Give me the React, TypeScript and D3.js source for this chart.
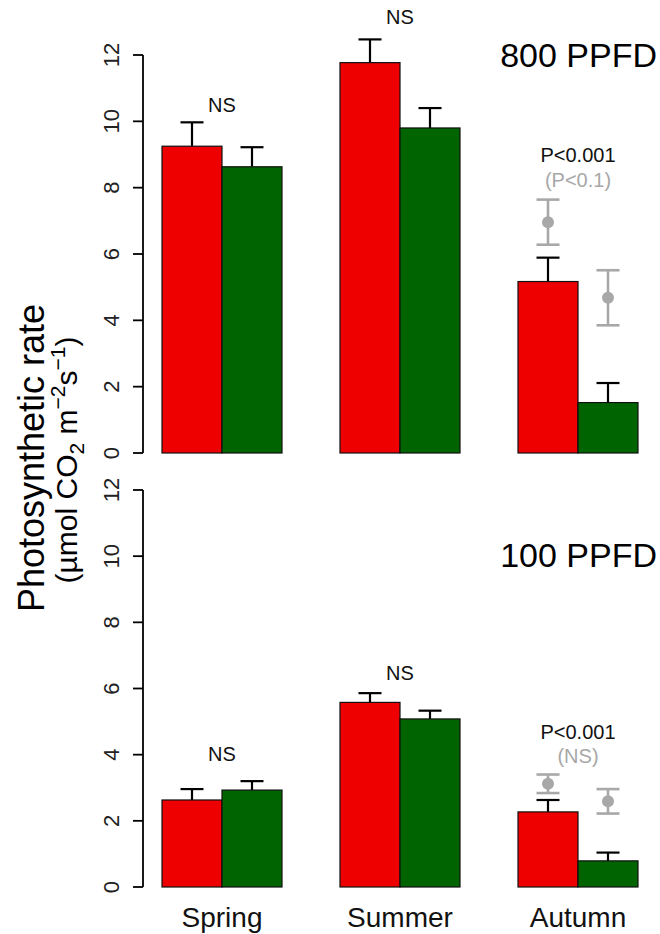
import * as d3 from "d3";

// seasons and treatments
const seasons = ["Spring", "Summer", "Autumn"];
const treatments = ["red", "green"];
const yTicks = [0, 2, 4, 6, 8, 10, 12];

// 800 PPFD panel
const redMean800 = [9.25, 11.77, 5.17];
const redSE800 = [0.72, 0.7, 0.72];
const greenMean800 = [8.63, 9.8, 1.52];
const greenSE800 = [0.59, 0.6, 0.59];
const greyMean800 = [6.96, 4.68]; // autumn, red then green
const greySE800 = [0.68, 0.83];
const sig800 = ["NS", "NS", "P<0.001"];
const greySig800 = "(P<0.1)";

// 100 PPFD panel
const redMean100 = [2.63, 5.58, 2.27];
const redSE100 = [0.33, 0.28, 0.36];
const greenMean100 = [2.93, 5.08, 0.79];
const greenSE100 = [0.27, 0.25, 0.25];
const greyMean100 = [3.12, 2.59];
const greySE100 = [0.28, 0.37];
const sig100 = ["NS", "NS", "P<0.001"];
const greySig100 = "(NS)";

const W = 660,
  H = 934;
const FONT = "'Liberation Sans', Arial, sans-serif";
const RED = "#ee0000";
const GREEN = "#006400";
const GREY = "#a8a8a8";

const x = d3
  .scaleBand()
  .domain(seasons)
  .range([133, 667])
  .paddingInner(58 / 178)
  .paddingOuter(29 / 178);
const xSub = d3.scaleBand().domain(treatments).range([0, x.bandwidth()]);

function Panel({ y, red, redSE, green, greenSE, grey, greySE, sig, greySig, label, labelY, sigY, greySigY }) {
  const rows = seasons.map((s, i) => ({
    season: s,
    bars: [
      { t: "red", v: red[i], se: redSE[i], fill: RED },
      { t: "green", v: green[i], se: greenSE[i], fill: GREEN },
    ],
  }));
  const cap = 11.5;
  return (
    <g>
      {/* y axis */}
      <line x1={143} x2={143} y1={y(12)} y2={y(0)} stroke="#000" strokeWidth={1.8} />
      {yTicks.map((t) => (
        <g key={t}>
          <line x1={133} x2={143} y1={y(t)} y2={y(t)} stroke="#000" strokeWidth={1.8} />
          <text
            transform={`translate(119,${y(t)}) rotate(-90)`}
            textAnchor="middle"
            fontSize={22}
            fontFamily={FONT}
            fill="#222"
          >
            {t}
          </text>
        </g>
      ))}
      {rows.map((r) =>
        r.bars.map((b) => {
          const bx = x(r.season) + xSub(b.t);
          const cx = bx + xSub.bandwidth() / 2;
          return (
            <g key={r.season + b.t}>
              <line x1={cx} x2={cx} y1={y(b.v)} y2={y(b.v + b.se)} stroke="#000" strokeWidth={2.2} />
              <line x1={cx - cap} x2={cx + cap} y1={y(b.v + b.se)} y2={y(b.v + b.se)} stroke="#000" strokeWidth={2.2} />
              <rect
                x={bx}
                y={y(b.v)}
                width={xSub.bandwidth()}
                height={y(0) - y(b.v)}
                fill={b.fill}
                stroke="#111"
                strokeWidth={1.2}
              />
            </g>
          );
        })
      )}
      {/* grey points for autumn */}
      {treatments.map((t, i) => {
        const cx = x("Autumn") + xSub(t) + xSub.bandwidth() / 2;
        const hi = y(grey[i] + greySE[i]);
        const lo = y(grey[i] - greySE[i]);
        return (
          <g key={"g" + t} stroke={GREY} strokeWidth={2.6}>
            <line x1={cx} x2={cx} y1={hi} y2={lo} />
            <line x1={cx - cap} x2={cx + cap} y1={hi} y2={hi} />
            <line x1={cx - cap} x2={cx + cap} y1={lo} y2={lo} />
            <circle cx={cx} cy={y(grey[i])} r={6} fill={GREY} stroke="none" />
          </g>
        );
      })}
      {seasons.map((s, i) => (
        <text
          key={"s" + s}
          x={x(s) + x.bandwidth() / 2}
          y={sigY[i]}
          textAnchor="middle"
          fontSize={20}
          fontFamily={FONT}
          fill="#111"
        >
          {sig[i]}
        </text>
      ))}
      <text
        x={x("Autumn") + x.bandwidth() / 2}
        y={greySigY}
        textAnchor="middle"
        fontSize={20}
        fontFamily={FONT}
        fill={GREY}
      >
        {greySig}
      </text>
      <text x={657} y={labelY} textAnchor="end" fontSize={34} fontFamily={FONT} fill="#000">
        {label}
      </text>
    </g>
  );
}

export default function App() {
  const yTop = d3.scaleLinear().domain([0, 12]).range([453, 55]);
  const yBot = d3.scaleLinear().domain([0, 12]).range([887, 490]);

  return (
    <svg
      width={W}
      height={H}
      style={{ position: "absolute", left: 0, top: 0, background: "#fff" }}
    >
      <rect width={W} height={H} fill="#fff" />
      <Panel
        y={yTop}
        red={redMean800}
        redSE={redSE800}
        green={greenMean800}
        greenSE={greenSE800}
        grey={greyMean800}
        greySE={greySE800}
        sig={sig800}
        greySig={greySig800}
        label="800 PPFD"
        labelY={67}
        sigY={[112, 24, 162]}
        greySigY={187}
      />
      <Panel
        y={yBot}
        red={redMean100}
        redSE={redSE100}
        green={greenMean100}
        greenSE={greenSE100}
        grey={greyMean100}
        greySE={greySE100}
        sig={sig100}
        greySig={greySig100}
        label="100 PPFD"
        labelY={567}
        sigY={[761, 680, 739]}
        greySigY={763}
      />
      {seasons.map((s) => (
        <text
          key={s}
          x={x(s) + x.bandwidth() / 2}
          y={927}
          textAnchor="middle"
          fontSize={28}
          fontFamily={FONT}
          fill="#111"
        >
          {s}
        </text>
      ))}
      <text
        transform="translate(44,458) rotate(-90)"
        textAnchor="middle"
        fontSize={36}
        fontFamily={FONT}
        fill="#000"
      >
        Photosynthetic rate
      </text>
      <text
        transform="translate(77,460) rotate(-90)"
        textAnchor="middle"
        fontSize={30}
        fontFamily={FONT}
        fill="#000"
      >
        (µmol CO
        <tspan fontSize={21} dy={7}>2</tspan>
        <tspan dy={-7}> m</tspan>
        <tspan fontSize={21} dy={-12}>−2</tspan>
        <tspan dy={12}>s</tspan>
        <tspan fontSize={21} dy={-12}>−1</tspan>
        <tspan dy={12}>)</tspan>
      </text>
    </svg>
  );
}
